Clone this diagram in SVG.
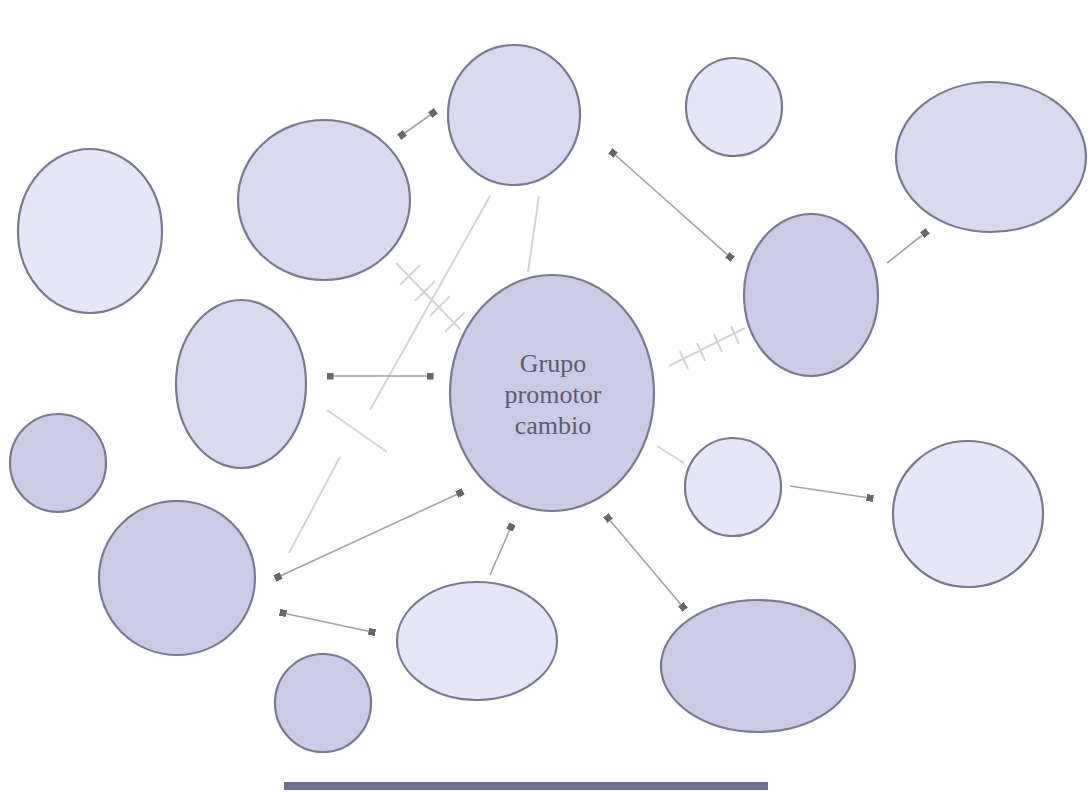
<svg xmlns="http://www.w3.org/2000/svg" width="1088" height="792" viewBox="0 0 1088 792">
<style>
.n{stroke:#7a7a8e;stroke-width:2.2}
.l1{fill:#e6e6f8}
.l2{fill:#d9d9f2}
.l3{fill:#cbcbe8}
.faint{stroke:#d4d4d4;stroke-width:2;fill:none}
.arr{stroke:#a2a2a8;stroke-width:1.6;fill:none}
.lbl{font-family:"Liberation Serif",serif;font-size:26px;fill:#5c5c6a;text-anchor:middle}
</style>
<defs>
<marker id="sq" viewBox="0 0 10 10" refX="5" refY="5" markerWidth="7" markerHeight="7" markerUnits="userSpaceOnUse" orient="auto">
<rect x="0" y="0" width="10" height="10" fill="#66666e"/>
</marker>
</defs>
<rect width="1088" height="792" fill="#ffffff"/>
<g id="connectors">
<line class="faint" x1="490" y1="196" x2="370" y2="410"/>
<line class="faint" x1="539" y1="196" x2="528" y2="272"/>
<line class="faint" x1="327" y1="410" x2="387" y2="452"/>
<line class="faint" x1="340" y1="457" x2="289" y2="553"/>
<line class="faint" x1="657" y1="446" x2="684" y2="463"/>
<g class="faint">
<line x1="396" y1="263" x2="461" y2="330"/>
<line x1="400" y1="285" x2="420" y2="265"/>
<line x1="415" y1="301" x2="435" y2="281"/>
<line x1="430" y1="316" x2="450" y2="296"/>
<line x1="445" y1="332" x2="465" y2="312"/>
<line x1="669" y1="366" x2="745" y2="328"/>
<line x1="680" y1="351" x2="688" y2="369"/>
<line x1="697" y1="343" x2="705" y2="361"/>
<line x1="714" y1="334" x2="722" y2="352"/>
<line x1="731" y1="326" x2="739" y2="344"/>
</g>
<line class="arr" x1="402" y1="135" x2="433" y2="113" marker-start="url(#sq)" marker-end="url(#sq)"/>
<line class="arr" x1="613" y1="153" x2="730" y2="257" marker-start="url(#sq)" marker-end="url(#sq)"/>
<line class="arr" x1="887" y1="263" x2="925" y2="233" marker-end="url(#sq)"/>
<line class="arr" x1="330" y1="376" x2="430" y2="376" marker-start="url(#sq)" marker-end="url(#sq)"/>
<line class="arr" x1="278" y1="577" x2="460" y2="493" marker-start="url(#sq)" marker-end="url(#sq)"/>
<line class="arr" x1="283" y1="613" x2="372" y2="632" marker-start="url(#sq)" marker-end="url(#sq)"/>
<line class="arr" x1="490" y1="575" x2="511" y2="527" marker-end="url(#sq)"/>
<line class="arr" x1="608" y1="518" x2="683" y2="607" marker-start="url(#sq)" marker-end="url(#sq)"/>
<line class="arr" x1="790" y1="486" x2="870" y2="498" marker-end="url(#sq)"/>
</g>
<g id="n1"><ellipse class="n l1" cx="90" cy="231" rx="72" ry="82"/></g>
<g id="n2"><ellipse class="n l2" cx="324" cy="200" rx="86" ry="80"/></g>
<g id="n3"><ellipse class="n l2" cx="514" cy="115" rx="66" ry="70"/></g>
<g id="n4"><ellipse class="n l1" cx="734" cy="107" rx="48" ry="49"/></g>
<g id="n5"><ellipse class="n l2" cx="991" cy="157" rx="95" ry="75"/></g>
<g id="n6"><ellipse class="n l3" cx="811" cy="295" rx="67" ry="81"/></g>
<g id="n7"><ellipse class="n l2" cx="241" cy="384" rx="65" ry="84"/></g>
<g id="center">
<ellipse class="n l3" cx="552" cy="393" rx="102" ry="118"/>
<text class="lbl" x="553" y="372">Grupo</text>
<text class="lbl" x="553" y="403">promotor</text>
<text class="lbl" x="553" y="434">cambio</text>
</g>
<g id="n9"><ellipse class="n l3" cx="58" cy="463" rx="48" ry="49"/></g>
<g id="n10"><ellipse class="n l3" cx="177" cy="578" rx="78" ry="77"/></g>
<g id="n11"><ellipse class="n l1" cx="733" cy="487" rx="48" ry="49"/></g>
<g id="n12"><ellipse class="n l1" cx="968" cy="514" rx="75" ry="73"/></g>
<g id="n13"><ellipse class="n l1" cx="477" cy="641" rx="80" ry="59"/></g>
<g id="n14"><ellipse class="n l3" cx="323" cy="703" rx="48" ry="49"/></g>
<g id="n15"><ellipse class="n l3" cx="758" cy="666" rx="97" ry="66"/></g>
<rect id="bar" x="284" y="782" width="484" height="8" fill="#6e6e8a"/>
</svg>
